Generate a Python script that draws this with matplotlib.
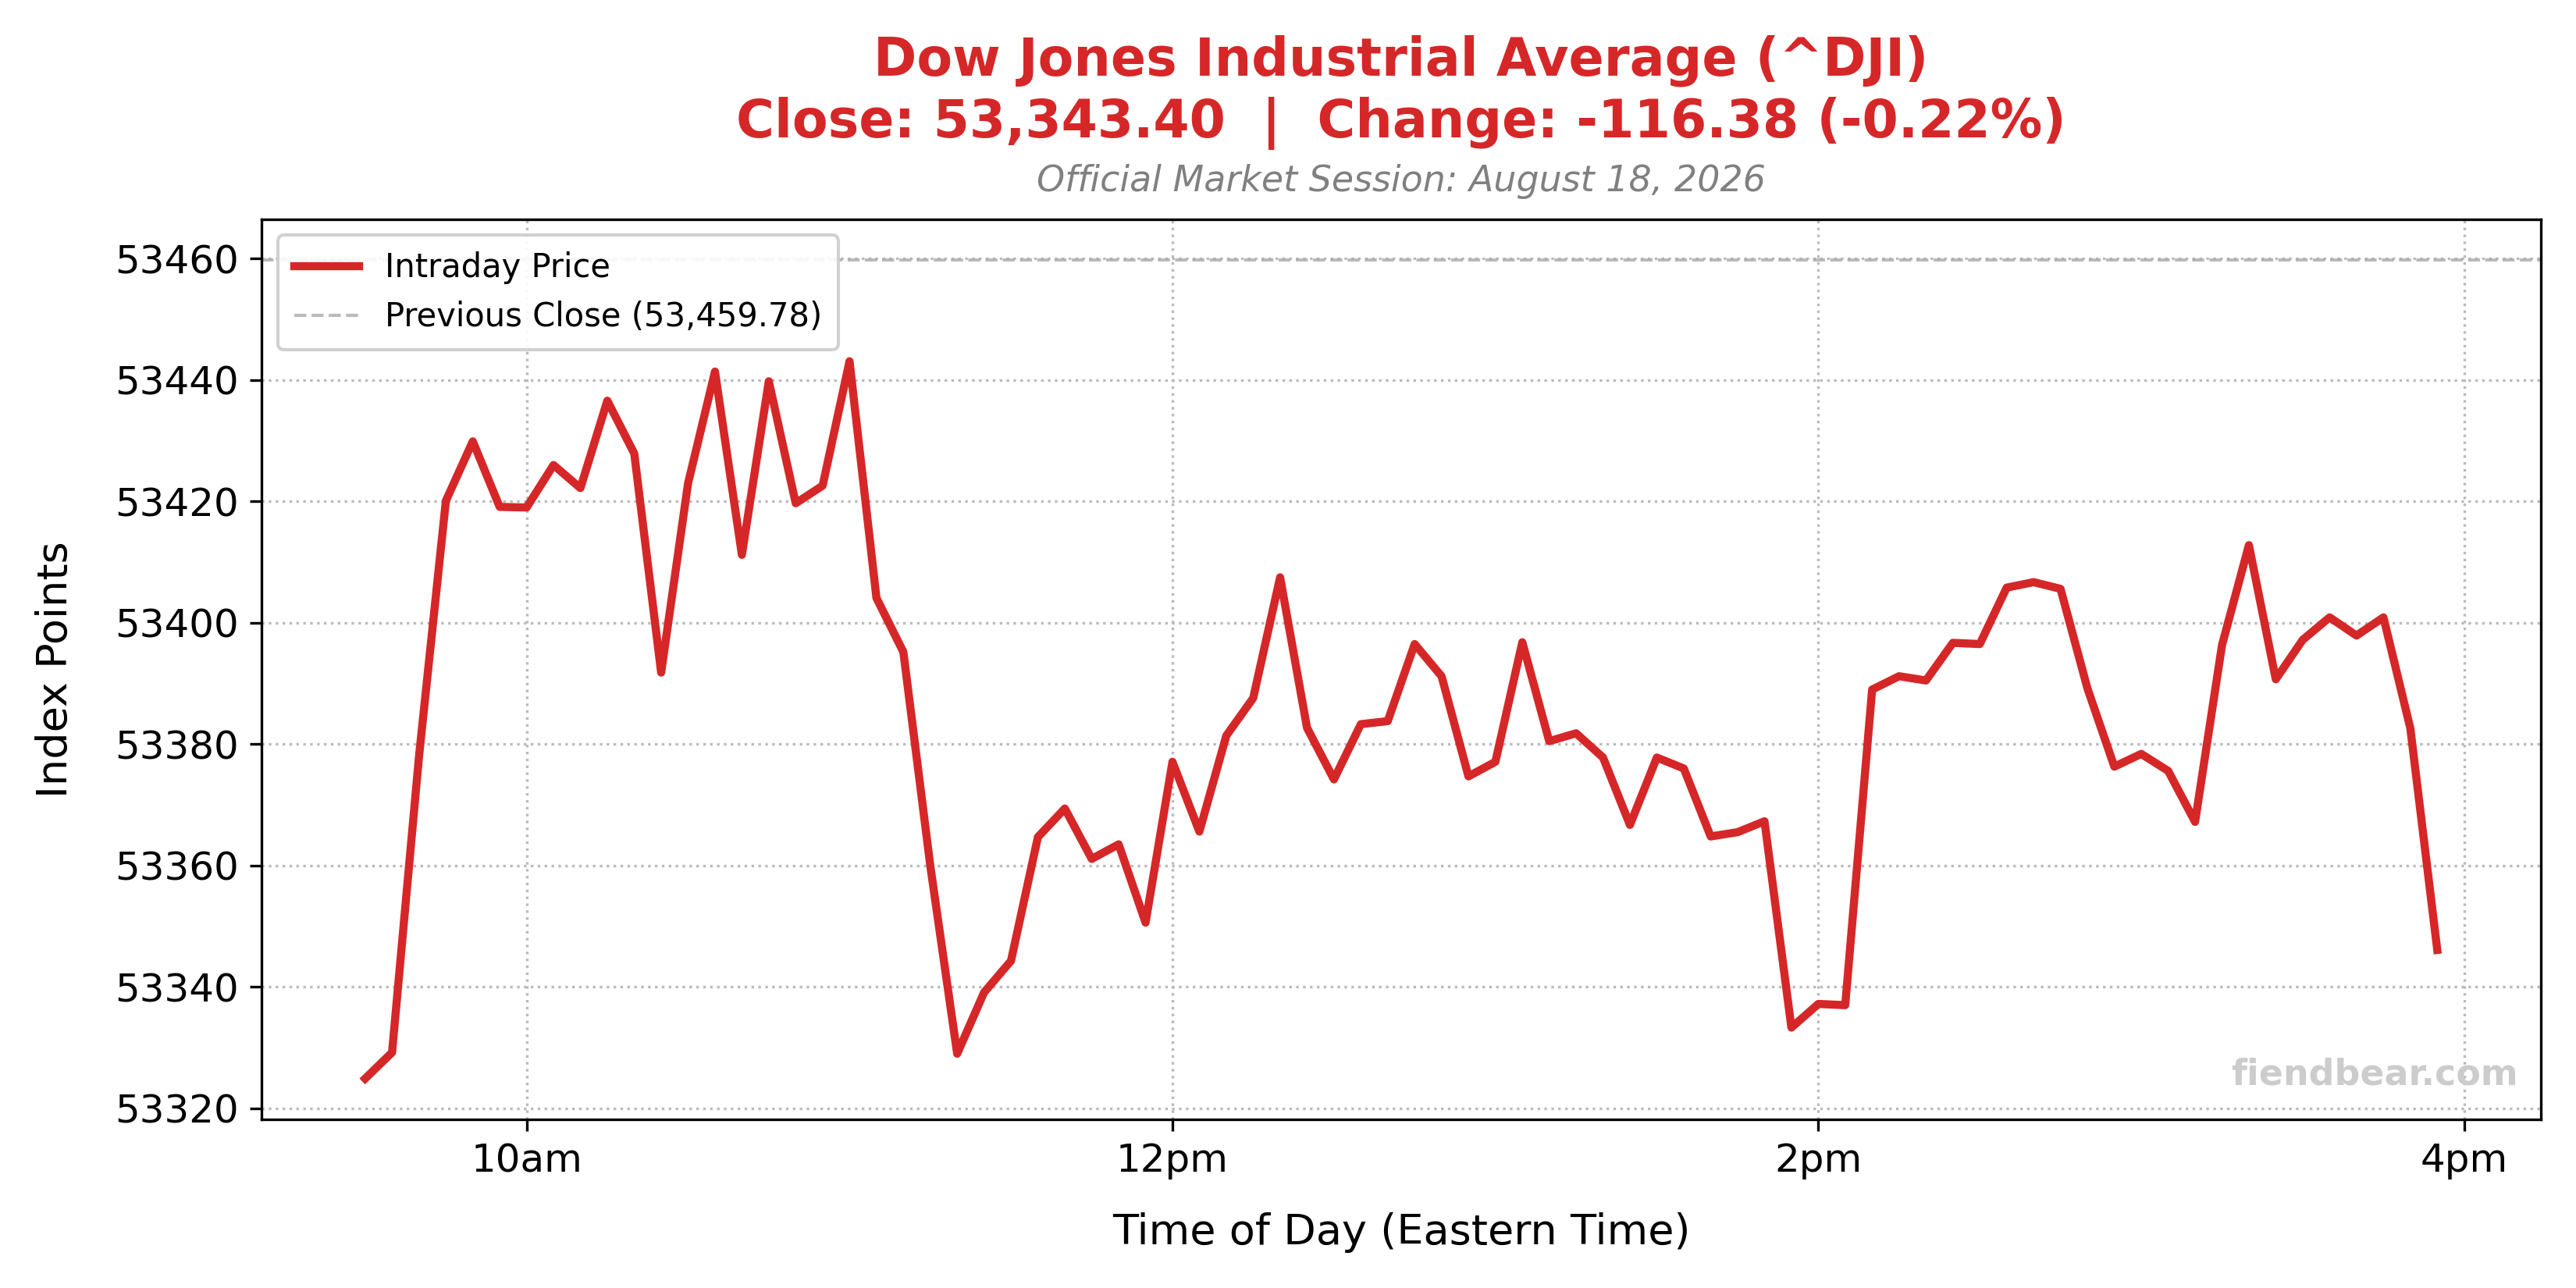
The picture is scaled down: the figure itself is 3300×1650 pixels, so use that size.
import numpy as np
import pandas as pd
import matplotlib
matplotlib.use("Agg")
import matplotlib.pyplot as plt

# Precios intradía cada 5 minutos (9:30 - 15:55)
prices = [
    53324.9, 53329.2, 53377.9, 53420.1, 53429.9, 53419.1, 53419.0, 53426.0,
    53422.2, 53436.6, 53427.9, 53391.8, 53423.0, 53441.4, 53411.2, 53439.8,
    53419.7, 53422.6, 53443.1, 53404.1, 53395.2, 53360.0, 53329.0, 53339.1,
    53344.3, 53364.7, 53369.4, 53361.1, 53363.5, 53350.6, 53377.1, 53365.6,
    53381.4, 53387.6, 53407.5, 53382.7, 53374.2, 53383.3, 53383.8, 53396.5,
    53391.2, 53374.7, 53377.1, 53396.8, 53380.5, 53381.8, 53377.8, 53366.7,
    53377.8, 53376.0, 53364.8, 53365.5, 53367.3, 53333.3, 53337.2, 53337.0,
    53389.0, 53391.2, 53390.5, 53396.7, 53396.5, 53405.8, 53406.7, 53405.6,
    53389.2, 53376.3, 53378.4, 53375.6, 53367.2, 53396.3, 53412.8, 53390.7,
    53397.2, 53400.9, 53397.9, 53400.9, 53382.6, 53346.1,
]
times = pd.date_range("2026-08-18 09:30", periods=len(prices), freq="5min")

prev_close = 53459.78
close = 53343.40
change = -116.38
change_pct = -0.22

tick_times = pd.to_datetime(["2026-08-18 10:00", "2026-08-18 12:00",
                             "2026-08-18 14:00", "2026-08-18 16:00"])
tick_labels = ["10am", "12pm", "2pm", "4pm"]

red = "#d62728"

fig, ax = plt.subplots(figsize=(11, 5.5), dpi=300)

ax.plot(times, prices, color=red, linewidth=2.5, label="Intraday Price")
ax.axhline(prev_close, color="#aaaaaa", linestyle="--", linewidth=1,
           alpha=0.8, label=f"Previous Close ({prev_close:,.2f})")

ax.set_xticks(tick_times)
ax.set_xticklabels(tick_labels)
ax.tick_params(axis="both", labelsize=12)

ax.grid(True, linestyle=":", color="#bbbbbb", linewidth=0.8)

ax.set_xlabel("Time of Day (Eastern Time)", fontsize=13, labelpad=10)
ax.set_ylabel("Index Points", fontsize=13, labelpad=12)

title = (f"Dow Jones Industrial Average (^DJI)\n"
         f"Close: {close:,.2f}  |  Change: {change:,.2f} ({change_pct:.2f}%)")
ax.set_title(title, color=red, fontsize=16, fontweight="bold", pad=25,
             linespacing=1.25)
ax.text(0.5, 1.022, "Official Market Session: August 18, 2026",
        transform=ax.transAxes, ha="center", va="bottom",
        fontsize=11, style="italic", color="gray")

ax.text(0.99, 0.03, "fiendbear.com", transform=ax.transAxes,
        ha="right", va="bottom", fontsize=11, fontweight="bold",
        color="#cccccc")

ax.legend(loc="upper left", fontsize=10, framealpha=0.9, borderpad=0.5)

plt.tight_layout()
plt.savefig("out.png")
